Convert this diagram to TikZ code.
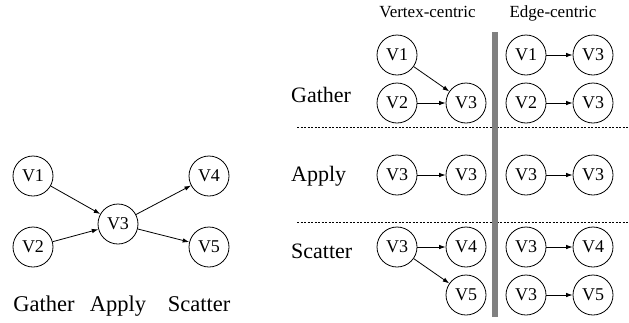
\documentclass[tikz,border=0pt]{standalone}
\usepackage{fontspec}
\setmainfont{Liberation Serif}
\usetikzlibrary{arrows.meta}
\tikzset{
  vert/.style={draw, circle, minimum size=40pt, inner sep=0pt, line width=0.8pt, font=\fontsize{18}{18}\selectfont},
  arr/.style={line width=0.8pt, -{Latex[length=6.5pt,width=4.5pt]}},
  rowlab/.style={anchor=base west, inner sep=0pt, font=\fontsize{22}{22}\selectfont},
  botlab/.style={anchor=base, inner sep=0pt, font=\fontsize{22.5}{22.5}\selectfont},
  head/.style={anchor=base, inner sep=0pt, font=\fontsize{17}{17}\selectfont},
  sep/.style={line width=0.9pt, dash pattern=on 2pt off 1.5pt},
  bar/.style={line width=6pt, draw=black!50}
}
\begin{document}
\begin{tikzpicture}[x=1pt,y=-1pt]
\useasboundingbox (0,0) rectangle (629,322);
% left graph
\node[vert] (a1) at (33,176) {V1};
\node[vert] (a2) at (33,247) {V2};
\node[vert] (a3) at (118,224) {V3};
\node[vert] (a4) at (209,176) {V4};
\node[vert] (a5) at (209,247) {V5};
\draw[arr] (a1) -- (a3);
\draw[arr] (a2) -- (a3);
\draw[arr] (a3) -- (a4);
\draw[arr] (a3) -- (a5);
\node[botlab] (bg) at (44,311) {Gather};
\node[botlab] (ba) at (118,311) {Apply};
\node[botlab] (bs) at (199,311) {Scatter};
% headers
\node[head] (hv) at (427.5,17) {Vertex-centric};
\node[head] (he) at (553,17) {Edge-centric};
% separators
\coordinate (bt) at (494.5,32);
\coordinate (bb) at (494.5,317);
\coordinate (d1l) at (297,127);
\coordinate (d1r) at (629,127);
\coordinate (d2l) at (297,222);
\coordinate (d2r) at (629,222);
\draw[sep] (d1l) -- (d1r);
\draw[sep] (d2l) -- (d2r);
\draw[bar] (bt) -- (bb);
% row labels
\node[rowlab] (lg) at (291,102) {Gather};
\node[rowlab] (la) at (291,181) {Apply};
\node[rowlab] (ls) at (291,258) {Scatter};
% gather vertex-centric
\node[vert] (g1) at (397,55) {V1};
\node[vert] (g2) at (397,103) {V2};
\node[vert] (g3) at (466,103) {V3};
\draw[arr] (g1) -- (g3);
\draw[arr] (g2) -- (g3);
% gather edge-centric
\node[vert] (e1) at (526,55) {V1};
\node[vert] (e2) at (593,55) {V3};
\node[vert] (e3) at (526,103) {V2};
\node[vert] (e4) at (593,103) {V3};
\draw[arr] (e1) -- (e2);
\draw[arr] (e3) -- (e4);
% apply
\node[vert] (p1) at (397,175) {V3};
\node[vert] (p2) at (466,175) {V3};
\node[vert] (p3) at (526,175) {V3};
\node[vert] (p4) at (593,175) {V3};
\draw[arr] (p1) -- (p2);
\draw[arr] (p3) -- (p4);
% scatter vertex-centric
\node[vert] (s1) at (397,247) {V3};
\node[vert] (s2) at (466,247) {V4};
\node[vert] (s3) at (466,295) {V5};
\draw[arr] (s1) -- (s2);
\draw[arr] (s1) -- (s3);
% scatter edge-centric
\node[vert] (t1) at (526,247) {V3};
\node[vert] (t2) at (593,247) {V4};
\node[vert] (t3) at (526,295) {V3};
\node[vert] (t4) at (593,295) {V5};
\draw[arr] (t1) -- (t2);
\draw[arr] (t3) -- (t4);
\end{tikzpicture}
\end{document}
